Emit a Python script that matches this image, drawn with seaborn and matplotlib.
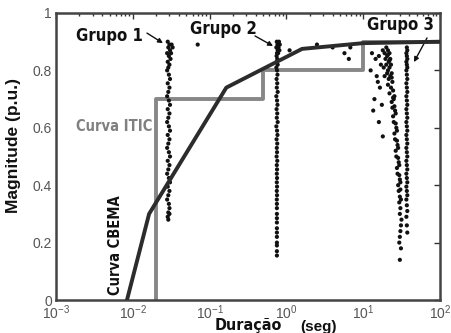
import numpy as np
import pandas as pd
import matplotlib
matplotlib.use("Agg")
import matplotlib.pyplot as plt
import seaborn as sns
from matplotlib.ticker import LogLocator, NullFormatter

# ---- data ----
itic_x = [0.02, 0.02, 0.5, 0.5, 10, 10, 100]
itic_y = [0.0, 0.7, 0.7, 0.8, 0.8, 0.9, 0.9]

cbema_x = [0.0084, 0.0163, 0.165, 1.6, 10, 100]
cbema_y = [0.0, 0.30, 0.74, 0.875, 0.895, 0.90]

g1_x = [0.0285, 0.0300, 0.0290, 0.0305, 0.0280, 0.0295, 0.0310, 0.0285, 0.0300, 0.0290,
        0.0280, 0.0295, 0.0305, 0.0285, 0.0300, 0.0290, 0.0280, 0.0295, 0.0305, 0.0285,
        0.0300, 0.0290, 0.0280, 0.0295, 0.0305, 0.0285, 0.0300, 0.0290, 0.0280, 0.0295,
        0.0305, 0.0285, 0.0300, 0.0290, 0.0280, 0.0295, 0.0305, 0.0285, 0.0300, 0.0290,
        0.0280, 0.0295, 0.0300, 0.0290, 0.0285, 0.0320, 0.0330, 0.0315, 0.0290, 0.0300]
g1_y = [0.90, 0.89, 0.88, 0.87, 0.86, 0.85, 0.84, 0.83, 0.82, 0.81,
        0.80, 0.785, 0.77, 0.755, 0.74, 0.725, 0.71, 0.695, 0.68, 0.665,
        0.65, 0.635, 0.62, 0.605, 0.59, 0.575, 0.56, 0.545, 0.53, 0.515,
        0.50, 0.485, 0.47, 0.455, 0.44, 0.425, 0.41, 0.395, 0.38, 0.365,
        0.35, 0.335, 0.32, 0.305, 0.29, 0.89, 0.88, 0.86, 0.28, 0.30]

g2_x = [0.750, 0.765, 0.740, 0.770, 0.755, 0.745, 0.760, 0.750, 0.770, 0.740,
        0.755, 0.765, 0.745, 0.760, 0.750, 0.770, 0.740, 0.755, 0.765, 0.745,
        0.760, 0.750, 0.770, 0.740, 0.755, 0.765, 0.745, 0.760, 0.750, 0.755,
        0.745, 0.760, 0.750, 0.755, 0.750, 0.755, 0.750, 0.755, 0.750, 0.755,
        0.750, 0.800, 0.820, 0.790, 0.810, 0.780]
g2_y = [0.90, 0.89, 0.88, 0.87, 0.86, 0.85, 0.84, 0.83, 0.82, 0.81,
        0.80, 0.785, 0.77, 0.755, 0.74, 0.725, 0.71, 0.695, 0.68, 0.665,
        0.65, 0.635, 0.62, 0.605, 0.59, 0.575, 0.56, 0.545, 0.53, 0.515,
        0.50, 0.485, 0.47, 0.455, 0.44, 0.425, 0.41, 0.395, 0.38, 0.365,
        0.35, 0.90, 0.89, 0.88, 0.87, 0.86]
g2b_x = [0.752, 0.752, 0.752, 0.752, 0.752, 0.752, 0.752, 0.752, 0.752, 0.752, 0.752, 0.752]
g2b_y = [0.335, 0.32, 0.30, 0.285, 0.27, 0.25, 0.235, 0.22, 0.20, 0.19, 0.17, 0.155]

g3_x = [13.0, 14.5, 16.0, 12.5, 15.0, 17.0, 18.0, 19.0, 20.0, 21.0,
        19.5, 20.5, 21.5, 22.0, 18.5, 20.0, 21.0, 22.5, 19.0, 20.5,
        21.5, 22.0, 23.0, 21.0, 22.5, 23.5, 24.0, 22.0, 23.0, 24.5,
        25.0, 23.5, 24.0, 25.5, 26.0, 24.5, 25.0, 26.5, 27.0, 25.5,
        26.0, 27.5, 28.0, 26.5, 27.0, 28.5, 29.0, 27.5, 28.0, 29.5,
        30.0, 28.5, 29.0, 30.5, 30.0, 29.5, 30.5, 31.0, 30.0, 31.5,
        31.0, 30.5, 30.0, 29.5, 31.0, 30.0, 16.5, 14.0, 17.5, 15.5,
        2.5, 5.7, 6.5, 6.8, 0.07, 1.1, 4.0, 16.0, 18.0, 13.5,
        21.0, 22.0, 23.5, 24.5, 25.5, 26.5, 27.5, 28.5, 29.5, 30.5]
g3_y = [0.86, 0.84, 0.85, 0.80, 0.78, 0.82, 0.87, 0.86, 0.88, 0.87,
        0.84, 0.85, 0.83, 0.86, 0.81, 0.82, 0.80, 0.84, 0.78, 0.79,
        0.77, 0.81, 0.82, 0.75, 0.78, 0.79, 0.76, 0.72, 0.74, 0.73,
        0.70, 0.69, 0.67, 0.71, 0.66, 0.64, 0.62, 0.65, 0.60, 0.58,
        0.56, 0.59, 0.54, 0.52, 0.50, 0.53, 0.48, 0.46, 0.44, 0.47,
        0.42, 0.40, 0.38, 0.41, 0.36, 0.34, 0.32, 0.35, 0.30, 0.28,
        0.26, 0.24, 0.22, 0.20, 0.18, 0.14, 0.74, 0.70, 0.68, 0.76,
        0.89, 0.86, 0.84, 0.88, 0.89, 0.87, 0.88, 0.62, 0.57, 0.66,
        0.855, 0.835, 0.775, 0.705, 0.675, 0.615, 0.555, 0.495, 0.435, 0.385]

g3c_x = [37.0, 37.5, 36.5, 37.0, 37.5, 36.5, 37.0, 37.5, 36.5, 37.0,
         37.5, 36.5, 37.0, 37.5, 36.5, 37.0, 37.5, 36.5, 37.0, 37.5,
         36.5, 37.0, 37.5, 36.5, 37.0, 37.5, 36.5, 37.0, 37.5, 36.5,
         37.0, 37.5, 36.5, 37.0, 37.5, 36.5, 37.0, 37.5, 36.5, 37.0,
         37.5, 36.5, 37.0, 37.5]
g3c_y = [0.88, 0.87, 0.86, 0.85, 0.84, 0.83, 0.82, 0.81, 0.80, 0.785,
         0.77, 0.755, 0.74, 0.725, 0.71, 0.695, 0.68, 0.665, 0.65, 0.635,
         0.62, 0.605, 0.59, 0.575, 0.56, 0.545, 0.53, 0.515, 0.50, 0.485,
         0.47, 0.455, 0.44, 0.425, 0.41, 0.395, 0.38, 0.365, 0.35, 0.33,
         0.31, 0.29, 0.26, 0.235]

x_ticks = [1e-3, 1e-2, 1e-1, 1e0, 1e1, 1e2]
x_tick_labels = ["$10^{-3}$", "$10^{-2}$", "$10^{-1}$", "$10^{0}$", "$10^{1}$", "$10^{2}$"]
y_ticks = [0, 0.2, 0.4, 0.6, 0.8, 1.0]
y_tick_labels = ["0", "0.2", "0.4", "0.6", "0.8", "1"]

# ---- plot ----
sns.set_style("white")
plt.rcParams["font.family"] = ["Liberation Sans", "DejaVu Sans"]
plt.rcParams["mathtext.fontset"] = "custom"
plt.rcParams["mathtext.rm"] = "Liberation Sans"
plt.rcParams["mathtext.it"] = "Liberation Sans"
cond = ["DejaVu Sans"]

fig = plt.figure(figsize=(4.51, 3.33), dpi=100)
ax = fig.add_axes([56/451, 33/333, 384/451, 287/333])

pts = pd.DataFrame({
    "x": g1_x + g2_x + g2b_x + g3_x + g3c_x,
    "y": g1_y + g2_y + g2b_y + g3_y + g3c_y,
})
sns.scatterplot(data=pts, x="x", y="y", ax=ax, color="#111111", s=9,
                marker="o", edgecolor="none", zorder=3)

sns.lineplot(x=itic_x, y=itic_y, ax=ax, sort=False, estimator=None,
             color="#878787", linewidth=2.8, zorder=2)
sns.lineplot(x=cbema_x, y=cbema_y, ax=ax, sort=False, estimator=None,
             color="#2c2c2c", linewidth=2.8, zorder=4)

ax.set_xscale("log")
ax.set_xlim(1e-3, 1e2)
ax.set_ylim(0, 1)
ax.set_xticks(x_ticks)
ax.set_xticklabels(x_tick_labels)
ax.xaxis.set_minor_locator(LogLocator(base=10, subs=np.arange(2, 10), numticks=20))
ax.xaxis.set_minor_formatter(NullFormatter())
ax.set_yticks(y_ticks)
ax.set_yticklabels(y_tick_labels)
ax.tick_params(axis="both", which="both", direction="in", top=True, right=True,
               colors="#333333", labelcolor="#555555", labelsize=10)
ax.tick_params(which="major", length=4, width=1)
ax.tick_params(which="minor", length=2.5, width=1)
ax.tick_params(axis="x", which="major", pad=2.5)
ax.tick_params(axis="y", which="major", pad=3)
for sp in ax.spines.values():
    sp.set_color("#444444")
    sp.set_linewidth(1.8)

ax.set_xlabel("")
ax.set_ylabel("Magnitude (p.u.)", fontsize=12.5, fontweight="bold", color="#111111")
ax.yaxis.set_label_coords(-0.092, 0.54)
ax.text(0.502, -0.089, "Duração", transform=ax.transAxes, ha="center", va="center",
        fontsize=11.5, fontweight="bold", family=cond, fontstretch="condensed", color="#111111")
ax.text(0.684, -0.093, "(seg)", transform=ax.transAxes, ha="center", va="center",
        fontsize=11, fontweight="bold", color="#111111")

tkw = dict(ha="center", va="center", fontsize=12, fontweight="bold", family=cond,
           fontstretch="condensed", color="#111111")
akw = dict(arrowstyle="-|>", color="#111111", lw=1, shrinkA=0, shrinkB=0, mutation_scale=7)
ax.text(0.0049, 0.92, "Grupo 1", **tkw)
ax.text(0.15, 0.944, "Grupo 2", **tkw)
ax.text(31, 0.958, "Grupo 3", **tkw)
ax.annotate("", xy=(0.0247, 0.895), xytext=(0.0153, 0.930), arrowprops=akw)
ax.annotate("", xy=(0.67, 0.885), xytext=(0.39, 0.920), arrowprops=akw)
ax.annotate("", xy=(45.8, 0.829), xytext=(67.8, 0.913), arrowprops=akw)
ax.text(0.0057, 0.606, "Curva ITIC", ha="center", va="center", fontsize=10.5,
        fontweight="bold", family=cond, fontstretch="condensed", color="#808080")
ax.text(0.0059, 0.19, "Curva CBEMA", ha="center", va="center", rotation=90, fontsize=10.5,
        fontweight="bold", family=cond, fontstretch="condensed", color="#111111")

fig.savefig("out.png", dpi=100)
